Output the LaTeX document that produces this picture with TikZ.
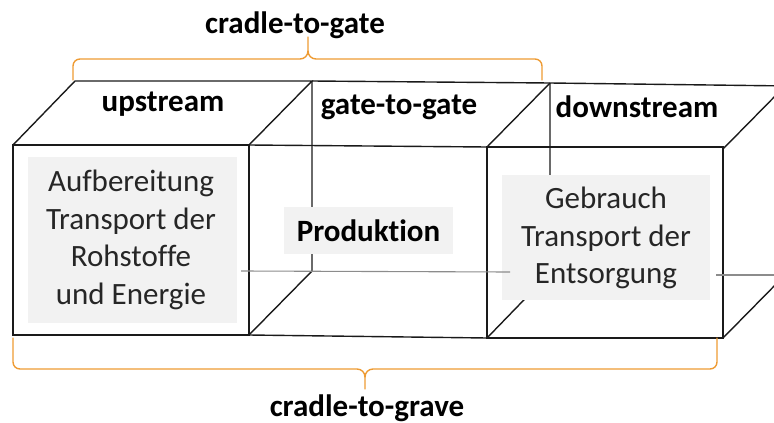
\documentclass[tikz,border=0pt]{standalone}
\usepackage{fontspec}
\setmainfont{Carlito}[Ligatures=CommonOff]
\definecolor{edge}{HTML}{1A1A1A}
\definecolor{hidden}{HTML}{8C8C8C}
\definecolor{panel}{HTML}{F2F2F2}
\definecolor{brace}{HTML}{EE9B33}
\tikzset{
  edgeline/.style={draw=edge, line width=1.4pt, line join=miter},
  hiddenline/.style={draw=hidden, line width=1.1pt},
  panelbox/.style={fill=panel, draw=none},
  bracepath/.style={draw=brace, line width=1.4pt, line join=round, line cap=round},
  body/.style={font=\fontsize{31}{37.5}\selectfont, text=black!85, align=center, inner sep=0pt},
  heading/.style={font=\fontsize{31}{36}\selectfont\bfseries, text=black, inner sep=0pt}
}
\begin{document}
\begin{tikzpicture}[x=1pt,y=-1pt]
\useasboundingbox (0,0) rectangle (774,423);
\clip (0,0) rectangle (774,423);

% ---------- visible cube edges ----------
% upstream cube: front face and top face
\draw[edgeline] (13,145) rectangle (249,335);
\draw[edgeline] (13,145) -- (75,81) -- (312,81) -- (249,145);
% back top edge running through the gate-to-gate and downstream cubes
\draw[edgeline] (312,81) -- (550,83) -- (790,86);
% shared back vertical and its lower diagonal
\draw[edgeline] (312,81) -- (312,271) -- (249,335);
% gate-to-gate front face
\draw[edgeline] (249,145) -- (487,147);
\draw[edgeline] (249,335) -- (487,338);
% diagonal and back vertical between gate-to-gate and downstream
\draw[edgeline] (550,83) -- (487,147);
\draw[edgeline] (550,83) -- (550,273) -- (487,338);
% downstream cube: front face and right-hand diagonals
\draw[edgeline] (487,147) rectangle (723,338);
\draw[edgeline] (723,149) -- (787,84);
\draw[edgeline] (723,338) -- (787,273);

% ---------- text panels ----------
\fill[panelbox] (28,157) rectangle (237,323);
\fill[panelbox] (284,207) rectangle (453,254);
\fill[panelbox] (502,175) rectangle (710,300);

% ---------- hidden bottom edges ----------
\draw[hiddenline] (241,271) -- (510,272);
\draw[hiddenline] (716,275) -- (774,275);

% ---------- panel texts ----------
\node[body] (up) at (131,240) {Aufbereitung\\Transport der\\Rohstoffe\\und Energie};
\node[heading] (prod) at (368.5,231) {Produktion};
\node[body] (down) at (606,238) {Gebrauch\\Transport der\\Entsorgung};

% ---------- stage headings ----------
\node[heading] (hup) at (163,104) {upstream};
\node[heading] (hgate) at (399,107) {gate-to-gate};
\node[heading] (hdown) at (637,107) {downstream};

% ---------- braces ----------
\draw[bracepath] (73,80) -- (73,66) to[out=90,in=180] (80,59) -- (300,59)
  to[out=0,in=270] (308,51) -- (308,37);
\draw[bracepath] (308,51) to[out=270,in=180] (316,59) -- (535,59)
  to[out=0,in=90] (542,66) -- (542,80);
\node[heading] (cgate) at (295,25) {cradle-to-gate};

\draw[bracepath] (13,338) -- (13,362) to[out=270,in=180] (20,369) -- (357,369)
  to[out=0,in=90] (365,377) -- (365,389);
\draw[bracepath] (365,377) to[out=90,in=180] (373,369) -- (710,369)
  to[out=0,in=270] (717,362) -- (717,338);
\node[heading] (cgrave) at (367,408) {cradle-to-grave};
\end{tikzpicture}
\end{document}
